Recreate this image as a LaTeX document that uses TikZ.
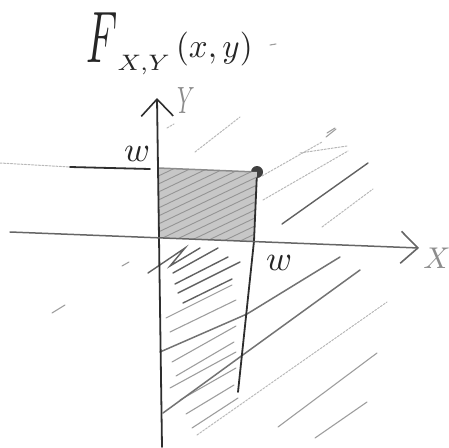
\documentclass[tikz,border=0pt]{standalone}
\usetikzlibrary{arrows.meta}
\begin{document}
\begin{tikzpicture}[x=1pt,y=-1pt,
  pen/.style={draw=black!82, line width=1.8pt, line cap=round, line join=round},
  pencil/.style={draw=black!55, line width=1.5pt, line cap=round, line join=round},
  hatchd/.style={draw=black!62, line width=1.4pt, line cap=round},
  hatchl/.style={draw=black!38, line width=1.1pt, line cap=round},
  faint/.style={draw=black!28, line width=1pt, line cap=round, dash pattern=on 2pt off 1.5pt},
  barb/.style={-{Straight Barb[length=17pt,width=32pt,line width=1.6pt]}},
  txt/.style={inner sep=0pt, text=black!85},
  ltxt/.style={inner sep=0pt, text=black!45},
  dotstyle/.style={circle, fill=black!75, minimum size=12pt, inner sep=0pt}]
\useasboundingbox (0,0) rectangle (449,447);

% key points
\coordinate (ybot) at (162,447);
\coordinate (ytop) at (157,98);
\coordinate (xleft) at (10,232);
\coordinate (xright) at (419,248);
\coordinate (wl0) at (0,163);
\coordinate (wl1) at (70,167);
\coordinate (wl2) at (150,169);
\coordinate (wy) at (158,168);
\coordinate (org) at (159,238);
\coordinate (wx) at (254,241);
\coordinate (wbot) at (238,392);
\node[dotstyle] (pt) at (257,172) {};

% shaded upper rectangle
\fill[black!22] (wy) -- (pt.center) -- (wx) -- (org) -- cycle;
\begin{scope}
  \clip (wy) -- (pt.center) -- (wx) -- (org) -- cycle;
  \foreach \c in {180,188,196,204,212,220,228,236,244,252,260,268,276,284,292}
    \draw[hatchl, line width=0.9pt, draw=black!42] (150,\c) -- ++(130,-62);
\end{scope}

% hatching in lower strip
\draw[hatchd] (148,273) -- (185,248) -- (170,266) -- (200,248);
\draw[hatchd] (173,273) -- (218,248);
\draw[hatchd] (175,284) -- (228,257);
\draw[hatchd] (178,293) -- (240,262);
\draw[hatchd] (183,303) -- (232,279);
\draw[hatchl] (166,318) -- (232,285);
\draw[hatchl] (170,332) -- (236,300);
\draw[hatchl] (172,362) -- (236,326);
\draw[hatchl] (176,376) -- (234,342);
\draw[hatchl] (170,388) -- (236,352);
\draw[hatchl] (180,400) -- (236,368);
\draw[hatchl] (186,414) -- (234,385);
\draw[hatchl] (192,428) -- (238,398);

% long hatch lines crossing x = w
\draw[pencil] (160,352) -- (247,314) -- (340,257);
\draw[pencil] (163,413) -- (240,357) -- (360,270);
\draw[faint] (197,435) -- (387,302);
\draw[hatchl] (278,427) -- (377,353);
\draw[hatchl] (315,438) -- (367,402);

% hatch lines above the x axis, right side
\draw[hatchd] (282,224) -- (368,163);
\draw[faint] (322,227) -- (373,189);
\draw[faint] (263,200) -- (348,151);
\draw[faint] (262,176) -- (322,142);
\draw[hatchl] (326,137) -- (336,129);
\draw[faint] (195,152) -- (240,117);
\draw[faint] (167,128) -- (174,124);
\draw[faint] (300,153) -- (347,146);
\draw[hatchl] (327,133) -- (335,128);

% stray marks
\draw[hatchl] (270,45) -- (276,44);
\draw[hatchl] (122,266) -- (129,262);
\draw[hatchl] (52,313) -- (65,305);

% y = w line
\draw[faint] (wl0) -- (wl1);
\draw[pen] (wl1) -- (wl2);
\draw[pencil, draw=black!45] (wy) -- (pt);

% x = w line
\draw[pen] (pt) -- (wx) -- (wbot);

% axes
\draw[pen, barb] (ybot) -- (ytop);
\draw[pencil, barb, draw=black!60] (xleft) -- (xright);

% labels
\node[txt, anchor=base west] (title) at (86,62)
  {\scalebox{4}[7.3]{$F$}\raisebox{-8pt}{\scalebox{3.4}[3.2]{$\scriptstyle X,Y$}}\hspace{6pt}\raisebox{5pt}{\scalebox{3.3}[3.4]{$(x,y)$}}};
\node[ltxt] (ylab) at (186,101) {\scalebox{2.2}[3.8]{$Y$}};
\node[ltxt] (xlab) at (437,258) {\scalebox{3}{$X$}};
\node[txt] (wylab) at (137,154) {\scalebox{3.5}{$w$}};
\node[txt] (wxlab) at (279,263) {\scalebox{3.5}{$w$}};
\end{tikzpicture}
\end{document}
